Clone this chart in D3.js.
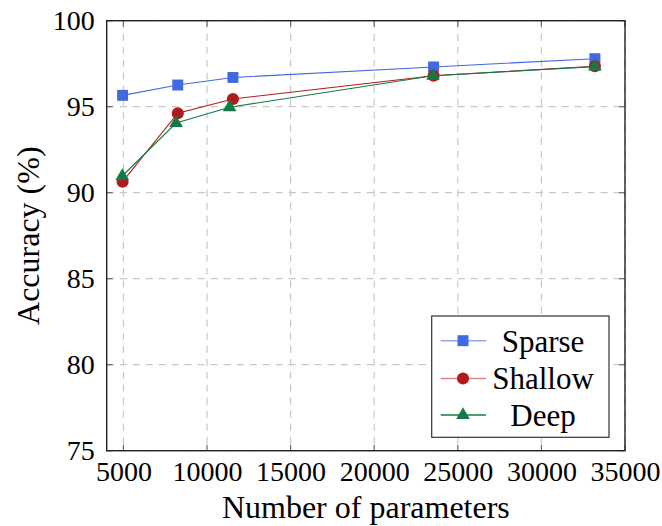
<!DOCTYPE html>
<html>
<head>
<meta charset="utf-8">
<script src="https://cdn.jsdelivr.net/npm/d3@7"></script>
<style>
  html, body { margin: 0; padding: 0; background: #fff; }
  svg { display: block; font-family: "Liberation Serif", "Times New Roman", "DejaVu Serif", serif; }
</style>
</head>
<body>
<svg id="chart" width="662" height="526"></svg>
<script>
// Model size (number of parameters) vs. accuracy for three architectures
const sparseParams  = [4950, 8250, 11550, 23550, 33200];
const sparseAcc     = [95.66, 96.26, 96.70, 97.31, 97.79];
const shallowParams = [4950, 8250, 11550, 23550, 33200];
const shallowAcc    = [90.64, 94.62, 95.45, 96.80, 97.35];
const deepParams    = [4930, 8150, 11350, 23520, 33200];
const deepAcc       = [90.97, 94.05, 94.97, 96.80, 97.33];

const xTicks = [5000, 10000, 15000, 20000, 25000, 30000, 35000];
const yTicks = [75, 80, 85, 90, 95, 100];

const seriesNames = ["Sparse", "Shallow", "Deep"];
const seriesColors = ["#4169e1", "#b21b1b", "#137a46"];
const seriesSymbols = [d3.symbolSquare, d3.symbolCircle, d3.symbolTriangle];
const seriesSizes = [120, 115, 80];

const series = [
  { name: seriesNames[0], xs: sparseParams, ys: sparseAcc },
  { name: seriesNames[1], xs: shallowParams, ys: shallowAcc },
  { name: seriesNames[2], xs: deepParams, ys: deepAcc }
];

const FONT = "Liberation Serif, Times New Roman, serif";
const svg = d3.select("#chart");
const L = 106.7, R = 625, T = 20.7, B = 450.7;

const x = d3.scaleLinear().domain([4000, 35000]).range([L, R]);
const y = d3.scaleLinear().domain([75, 100]).range([B, T]);

// dashed grid
const grid = svg.append("g");
grid.selectAll("line.vx").data(xTicks).join("line")
  .attr("x1", d => x(d)).attr("x2", d => x(d))
  .attr("y1", T).attr("y2", B)
  .attr("stroke", "#c8c8c8").attr("stroke-width", 1.2)
  .attr("stroke-dasharray", "7,6");
grid.selectAll("line.hy").data(yTicks).join("line")
  .attr("y1", d => y(d)).attr("y2", d => y(d))
  .attr("x1", L).attr("x2", R)
  .attr("stroke", "#c8c8c8").attr("stroke-width", 1.2)
  .attr("stroke-dasharray", "7,6");

// inward tick marks on all four sides
const tickLen = 6;
const tk = svg.append("g").attr("stroke", "#6b6b6b").attr("stroke-width", 1.2);
xTicks.forEach(v => {
  tk.append("line").attr("x1", x(v)).attr("x2", x(v)).attr("y1", B).attr("y2", B - tickLen);
  tk.append("line").attr("x1", x(v)).attr("x2", x(v)).attr("y1", T).attr("y2", T + tickLen);
});
yTicks.forEach(v => {
  tk.append("line").attr("y1", y(v)).attr("y2", y(v)).attr("x1", L).attr("x2", L + tickLen);
  tk.append("line").attr("y1", y(v)).attr("y2", y(v)).attr("x1", R).attr("x2", R - tickLen);
});

// tick labels via d3 axes
const xAxis = d3.axisBottom(x).tickValues(xTicks).tickFormat(d3.format("d")).tickSize(0).tickPadding(10);
const gx = svg.append("g").attr("transform", `translate(0,${B})`).call(xAxis)
  .attr("font-family", FONT);
gx.select(".domain").remove();
gx.selectAll("text").attr("font-size", 28).attr("fill", "#000");

const yAxis = d3.axisLeft(y).tickValues(yTicks).tickFormat(d3.format("d")).tickSize(0).tickPadding(12);
const gy = svg.append("g").attr("transform", `translate(${L},0)`).call(yAxis)
  .attr("font-family", FONT);
gy.select(".domain").remove();
gy.selectAll("text").attr("font-size", 28).attr("fill", "#000");

// series lines and markers
const line = d3.line().x(d => x(d[0])).y(d => y(d[1]));
series.forEach((s, i) => {
  const pts = s.xs.map((v, j) => [v, s.ys[j]]);
  svg.append("path").datum(pts)
    .attr("d", line).attr("fill", "none")
    .attr("stroke", seriesColors[i]).attr("stroke-width", 1.1);
  svg.append("g").selectAll("path").data(pts).join("path")
    .attr("transform", d => `translate(${x(d[0])},${y(d[1])})`)
    .attr("d", d3.symbol().type(seriesSymbols[i]).size(seriesSizes[i]))
    .attr("fill", seriesColors[i]);
});

// plot frame
svg.append("rect")
  .attr("x", L).attr("y", T).attr("width", R - L).attr("height", B - T)
  .attr("fill", "none").attr("stroke", "#222").attr("stroke-width", 1.4);

// axis titles
svg.append("text")
  .attr("x", (L + R) / 2).attr("y", 518)
  .attr("text-anchor", "middle").attr("font-size", 32).attr("font-family", FONT)
  .text("Number of parameters");
svg.append("text")
  .attr("transform", `translate(39,${(T + B) / 2}) rotate(-90)`)
  .attr("text-anchor", "middle").attr("font-size", 32).attr("font-family", FONT)
  .text("Accuracy (%)");

// legend
const lg = svg.append("g").attr("font-family", FONT);
lg.append("rect")
  .attr("x", 431.7).attr("y", 316).attr("width", 177.3).attr("height", 121.3)
  .attr("fill", "#fff").attr("stroke", "#333").attr("stroke-width", 1.2);
const rowY = [340.7, 378.5, 415];
const legendLineColors = ["#8fa8ee", "#d98686", "#137a46"];
seriesNames.forEach((name, i) => {
  lg.append("line")
    .attr("x1", 440.7).attr("x2", 486).attr("y1", rowY[i]).attr("y2", rowY[i])
    .attr("stroke", legendLineColors[i]).attr("stroke-width", 1.4);
  lg.append("path")
    .attr("transform", `translate(463,${rowY[i]})`)
    .attr("d", d3.symbol().type(seriesSymbols[i]).size(seriesSizes[i]))
    .attr("fill", seriesColors[i]);
  lg.append("text")
    .attr("x", 543).attr("y", rowY[i]).attr("dy", "0.35em")
    .attr("text-anchor", "middle").attr("font-size", 31)
    .text(name);
});
</script>
</body>
</html>
